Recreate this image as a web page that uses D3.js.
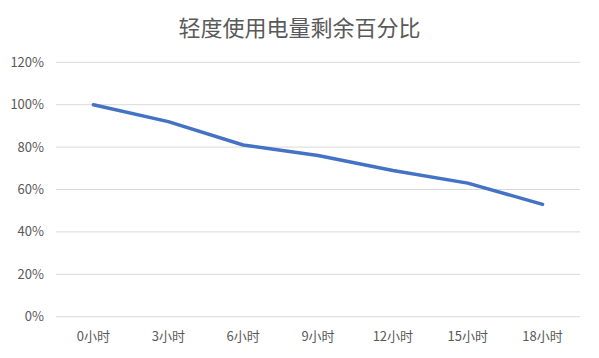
<!DOCTYPE html>
<html>
<head>
<meta charset="utf-8">
<script src="https://cdn.jsdelivr.net/npm/d3@7"></script>
<style>
  body { margin: 0; background: #fff; }
  text { font-family: "Noto Sans CJK SC", "Noto Sans", sans-serif; fill: #595959; }
</style>
</head>
<body>
<script>
// data
var categories = ["0小时", "3小时", "6小时", "9小时", "12小时", "15小时", "18小时"];
var values = [1.00, 0.92, 0.81, 0.76, 0.69, 0.63, 0.53];
var yTicks = [0, 0.2, 0.4, 0.6, 0.8, 1.0, 1.2];
var title = "轻度使用电量剩余百分比";

var width = 599, height = 358;
var margin = {top: 62.3, right: 19, bottom: 41.3, left: 56};

var svg = d3.select("body").append("svg")
    .attr("width", width)
    .attr("height", height);

var x = d3.scaleBand()
    .domain(categories)
    .range([margin.left, width - margin.right]);

var y = d3.scaleLinear()
    .domain([0, 1.2])
    .range([height - margin.bottom, margin.top]);

// gridlines
svg.append("g")
    .selectAll("line")
    .data(yTicks)
    .enter().append("line")
    .attr("x1", margin.left)
    .attr("x2", width - margin.right)
    .attr("y1", function(d) { return y(d); })
    .attr("y2", function(d) { return y(d); })
    .attr("stroke", "#d9d9d9")
    .attr("stroke-width", 1);

// y labels
svg.append("g")
    .selectAll("text")
    .data(yTicks)
    .enter().append("text")
    .attr("x", 44)
    .attr("y", function(d) { return y(d); })
    .attr("dy", "0.35em")
    .attr("text-anchor", "end")
    .style("font-size", "13px")
    .text(function(d) { return d3.format(".0%")(d); });

// x labels
svg.append("g")
    .selectAll("text")
    .data(categories)
    .enter().append("text")
    .attr("x", function(d) { return x(d) + x.bandwidth() / 2; })
    .attr("y", 336)
    .attr("dy", "0.35em")
    .attr("text-anchor", "middle")
    .style("font-size", "13px")
    .text(function(d) { return d; });

// line
var line = d3.line()
    .x(function(d, i) { return x(categories[i]) + x.bandwidth() / 2; })
    .y(function(d) { return y(d); });

svg.append("path")
    .datum(values)
    .attr("d", line)
    .attr("fill", "none")
    .attr("stroke", "#4472C4")
    .attr("stroke-width", 3.5)
    .attr("stroke-linecap", "round")
    .attr("stroke-linejoin", "round");

// title
svg.append("text")
    .attr("x", width / 2)
    .attr("y", 28)
    .attr("dy", "0.35em")
    .attr("text-anchor", "middle")
    .style("font-size", "22px")
    .text(title);
</script>
</body>
</html>
